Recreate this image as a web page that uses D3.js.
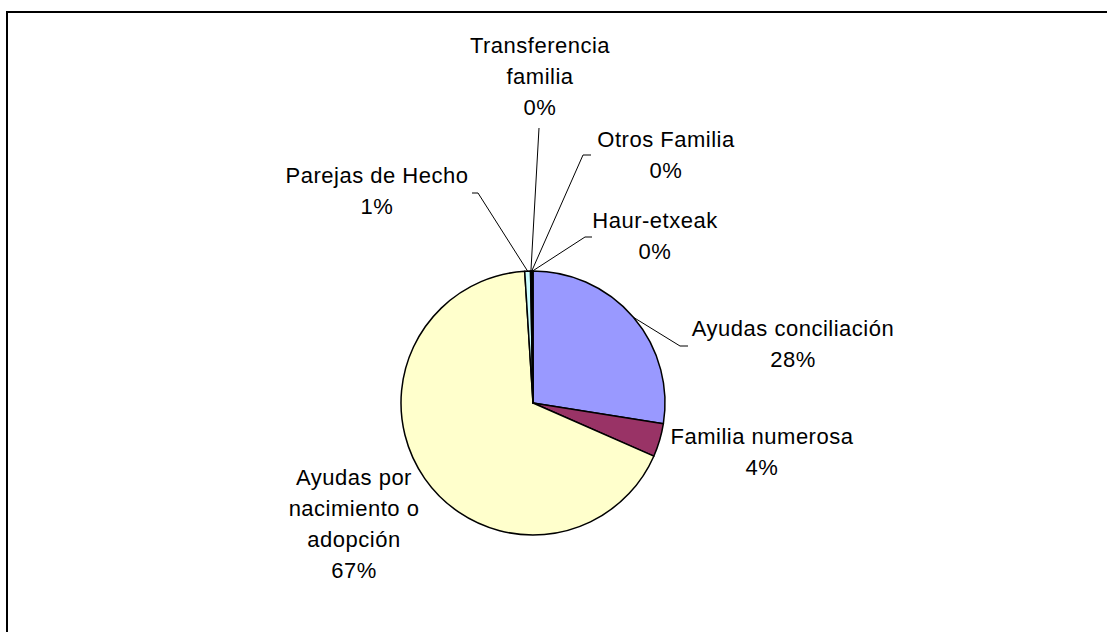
<!DOCTYPE html>
<html>
<head>
<meta charset="utf-8">
<script src="https://cdn.jsdelivr.net/npm/d3@7"></script>
<style>
  body { margin: 0; background: #fff; }
  svg text { font-family: "Liberation Sans", Arial, sans-serif; }
</style>
</head>
<body>
<svg id="chart" width="1107" height="632"></svg>
<script>
// categories in the order the slices are drawn, clockwise from 12 o'clock
const categories = [
    "Ayudas conciliación",
    "Familia numerosa",
    "Ayudas por\nnacimiento o\nadopción",
    "Parejas de Hecho",
    "Transferencia\nfamilia",
    "Otros Familia",
    "Haur-etxeak"
]
const values = [27.5, 4.1, 67.4, 0.7, 0.1, 0.1, 0.1]
const colors = ["#9999FF", "#993366", "#FFFFCC", "#CCFFFF", "#660066", "#FF8080", "#0066CC"]

// where Excel put the labels (first baseline, centre x) and the leader elbows
const labelLayout = [
    {x: 793, y: 336, elbow: [680, 346], end: [688, 346]},
    {x: 762, y: 444},
    {x: 354, y: 485},
    {x: 377, y: 183, elbow: [478, 193], end: [472, 193]},
    {x: 540, y: 53, elbow: [539, 128]},
    {x: 666, y: 147, elbow: [583, 155], end: [591, 155]},
    {x: 655, y: 228, elbow: [585, 237], end: [592, 237]}
]

const center = {x: 533, y: 403}
const radius = 132
const lineGap = 31

const svg = d3.select("#chart")

// chart area frame (runs off the right and bottom of the picture)
svg.append("rect")
    .attr("x", 7)
    .attr("y", 12)
    .attr("width", 1200)
    .attr("height", 700)
    .attr("fill", "#fff")
    .attr("stroke", "#000")
    .attr("stroke-width", 2)

const total = d3.sum(values)
const pie = d3.pie().sort(null).value(d => d)
const arcs = pie(values)
const arc = d3.arc().innerRadius(0).outerRadius(radius)

const pieGroup = svg.append("g")
    .attr("transform", `translate(${center.x},${center.y})`)

pieGroup.selectAll("path")
    .data(arcs)
    .join("path")
    .attr("d", arc)
    .attr("fill", (d, i) => colors[i])
    .attr("stroke", "#000")
    .attr("stroke-width", 1.5)
    .attr("stroke-linejoin", "round")

// leader lines
const leaderGroup = svg.append("g")
arcs.forEach((d, i) => {
    const lay = labelLayout[i]
    if (!lay.elbow) return
    const mid = (d.startAngle + d.endAngle) / 2
    const start = [center.x + radius * Math.sin(mid), center.y - radius * Math.cos(mid)]
    const pts = [start, lay.elbow]
    if (lay.end) pts.push(lay.end)
    leaderGroup.append("path")
        .attr("d", d3.line()(pts))
        .attr("fill", "none")
        .attr("stroke", "#000")
        .attr("stroke-width", 1)
})

// data labels
const labelGroup = svg.append("g")
arcs.forEach((d, i) => {
    const lay = labelLayout[i]
    const pct = Math.round(d.value / total * 100) + "%"
    const lines = categories[i].split("\n").concat([pct])
    const t = labelGroup.append("text")
        .attr("text-anchor", "middle")
        .attr("font-size", 22)
        .attr("letter-spacing", 0.5)
        .attr("fill", "#000")
    lines.forEach((ln, k) => {
        t.append("tspan")
            .attr("x", lay.x)
            .attr("y", lay.y + k * lineGap)
            .text(ln)
    })
})
</script>
</body>
</html>
